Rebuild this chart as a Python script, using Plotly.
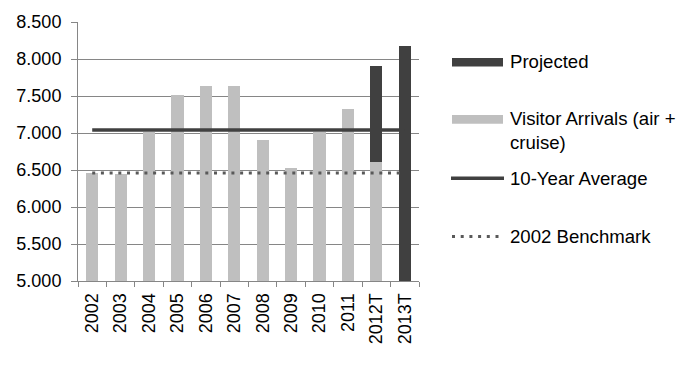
import plotly.graph_objects as go

# Visitor arrivals (thousands, shown with 3 decimals) and projections
years = ["2002", "2003", "2004", "2005", "2006", "2007", "2008", "2009",
         "2010", "2011", "2012T", "2013T"]
visitor_arrivals = [6.46, 6.45, 7.01, 7.51, 7.64, 7.64, 6.90, 6.53,
                    7.01, 7.32, 6.61, 0]
projected_total = [None, None, None, None, None, None, None, None,
                   None, None, 7.91, 8.17]
ten_year_average = [7.04] * len(years)
benchmark_2002 = [6.46] * len(years)

# projected part stacks on top of the actual arrivals
projected_increment = [
    (p - v) if p is not None else None
    for p, v in zip(projected_total, visitor_arrivals)
]

LIGHT = "#BFBFBF"
DARK = "#404040"
DOTS = "#595959"
GRID = "#868686"
FONT = "Liberation Sans, Arial, sans-serif"
FS = 18

# plot area in pixels (used for the hand-built legend)
W, H = 689, 370
L, R, T, B = 78, 419, 14, 281


def px(x):
    return (x - L) / (R - L)


def py(y):
    return (B - y) / (B - T)


fig = go.Figure()
fig.add_trace(go.Bar(x=years, y=visitor_arrivals, marker_color=LIGHT,
                     marker_line_width=0, name="Visitor Arrivals (air + cruise)",
                     showlegend=False))
fig.add_trace(go.Bar(x=years, y=projected_increment, marker_color=DARK,
                     marker_line_width=0, name="Projected", showlegend=False))
fig.add_trace(go.Scatter(x=years, y=ten_year_average, mode="lines",
                         line=dict(color=DARK, width=3.5),
                         name="10-Year Average", showlegend=False))
fig.add_trace(go.Scatter(x=years, y=benchmark_2002, mode="lines",
                         line=dict(color=DOTS, width=3, dash="3px,5.7px"),
                         name="2002 Benchmark", showlegend=False))

shapes = [
    dict(type="rect", xref="paper", yref="paper", x0=px(452), x1=px(503),
         y0=py(60), y1=py(51), fillcolor=DARK, line_width=0),
    dict(type="rect", xref="paper", yref="paper", x0=px(452), x1=px(503),
         y0=py(119), y1=py(110), fillcolor=LIGHT, line_width=0),
    dict(type="line", xref="paper", yref="paper", x0=px(451), x1=px(504),
         y0=py(175), y1=py(175), line=dict(color=DARK, width=3.5)),
    dict(type="line", xref="paper", yref="paper", x0=px(452), x1=px(500),
         y0=py(235), y1=py(235),
         line=dict(color=DOTS, width=3, dash="3px,5.7px")),
]

legend_text = [
    ("Projected", 55),
    ("Visitor Arrivals (air +<br>cruise)", 126),
    ("10-Year Average", 175),
    ("2002 Benchmark", 235),
]
annotations = [
    dict(text=t, xref="paper", yref="paper", x=px(508), y=py(yc),
         xanchor="left", yanchor="middle", align="left", showarrow=False,
         font=dict(family=FONT, size=18.6, color="#000000"))
    for t, yc in legend_text
]

fig.update_layout(
    width=W, height=H,
    margin=dict(l=L, r=W - R, t=T, b=H - B, pad=0),
    paper_bgcolor="white", plot_bgcolor="white",
    barmode="stack", bargap=0.57,
    showlegend=False,
    font=dict(family=FONT, size=FS, color="#000000"),
    shapes=shapes, annotations=annotations,
)
fig.update_yaxes(
    range=[5, 8.5], dtick=0.5, tick0=5, tickformat=".3f",
    showgrid=True, gridcolor=GRID, gridwidth=1,
    showline=True, linecolor=GRID, linewidth=1,
    ticks="outside", ticklen=6, tickcolor=GRID,
    ticklabelstandoff=6, zeroline=False,
)
fig.update_xaxes(
    type="category", tickangle=-90, tickson="boundaries",
    ticks="outside", ticklen=5, tickcolor=GRID,
    showline=True, linecolor=GRID, linewidth=1, showgrid=False,
    ticklabelstandoff=4,
)

fig.write_html("out.html")
